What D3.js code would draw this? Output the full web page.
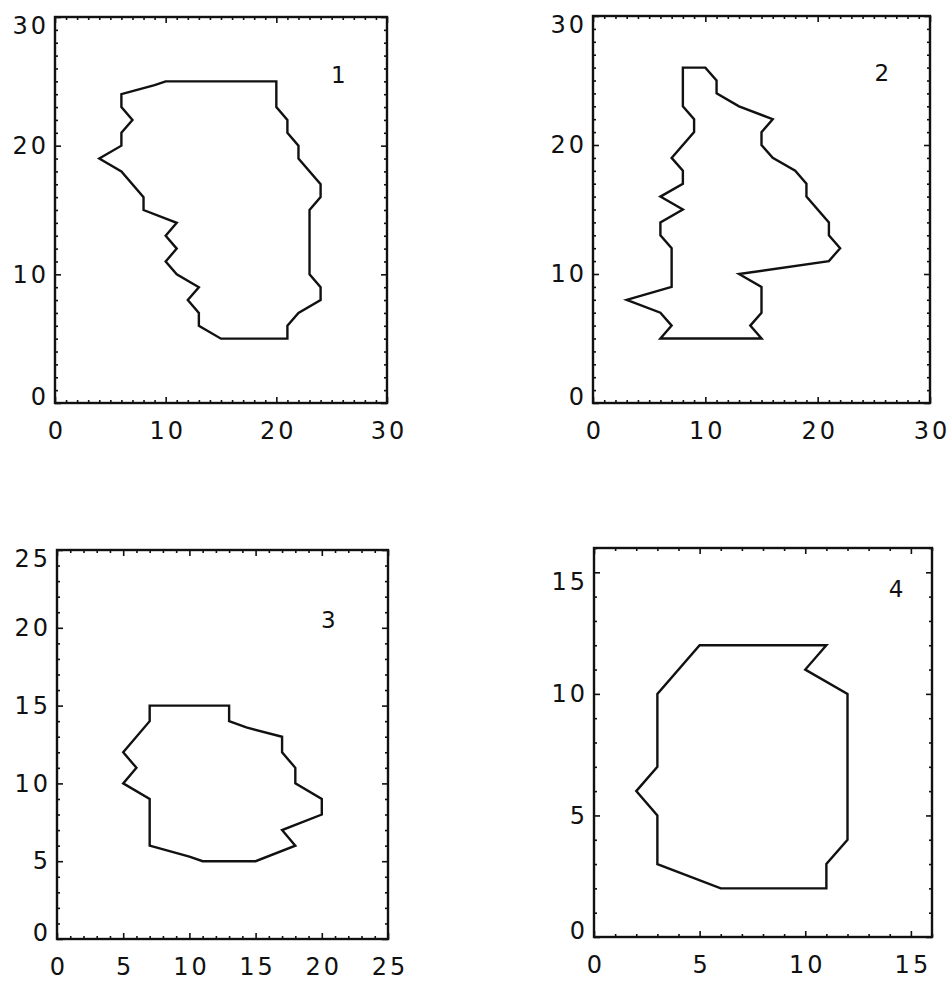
<!DOCTYPE html>
<html>
<head>
<meta charset="utf-8">
<script src="https://cdn.jsdelivr.net/npm/d3@7"></script>
<style>
  html, body { margin: 0; padding: 0; background: #ffffff; }
  svg { display: block; }
</style>
</head>
<body>
<svg id="chart" width="951" height="984"></svg>
<script>
// Panel identifiers and axis extents
const panelNames = ["1", "2", "3", "4"];
const axisMax = [30, 30, 25, 16];
const majorStep = [10, 10, 5, 5];
const minorStep = [1, 1, 1, 1];

// Closed outlines, one per panel, as [x, y] vertices
const outline1 = [
  [10, 25], [20, 25], [20, 23], [21, 22], [21, 21], [22, 20], [22, 19], [24, 17],
  [24, 16], [23, 15], [23, 10], [24, 9], [24, 8], [22, 7], [21, 6], [21, 5],
  [15, 5], [13, 6], [13, 7], [12, 8], [13, 9], [11, 10], [10, 11], [11, 12],
  [10, 13], [11, 14], [8, 15], [8, 16], [6, 18], [4, 19], [6, 20], [6, 21],
  [7, 22], [6, 23], [6, 24], [9, 24.7]
];
const outline2 = [
  [8, 26], [10, 26], [11, 25], [11, 24], [13, 23], [16, 22], [15, 21], [15, 20],
  [16, 19], [18, 18], [19, 17], [19, 16], [21, 14], [21, 13], [22, 12], [21, 11],
  [13, 10], [15, 9], [15, 7], [14, 6], [15, 5], [6, 5], [7, 6], [6, 7],
  [3, 8], [7, 9], [7, 12], [6, 13], [6, 14], [8, 15], [6, 16], [8, 17],
  [8, 18], [7, 19], [9, 21], [9, 22], [8, 23]
];
const outline3 = [
  [7, 15], [13, 15], [13, 14], [14.3, 13.6], [17, 13], [17, 12], [18, 11], [18, 10],
  [20, 9], [20, 8], [17, 7], [18, 6], [15, 5], [11, 5], [10, 5.3], [7, 6],
  [7, 9], [5, 10], [6, 11], [5, 12], [7, 14]
];
const outline4 = [
  [5, 12], [11, 12], [10, 11], [12, 10], [12, 4], [11, 3], [11, 2], [6, 2],
  [3, 3], [3, 5], [2, 6], [3, 7], [3, 10]
];
const outlines = [outline1, outline2, outline3, outline4];

// Panel number positions, in each panel's data units
const labelAt = [[25.6, 25.5], [25.7, 25.6], [20.5, 20.5], [14.3, 14.3]];

// Plot frames: left, top, width, height
const frames = [
  { left: 55, top: 17, width: 332, height: 386 },
  { left: 593, top: 16, width: 337, height: 387 },
  { left: 57, top: 550, width: 331, height: 389 },
  { left: 594, top: 548, width: 338, height: 389 }
];

const svg = d3.select("#chart");
const ink = "#111111";
const fontFamily = "'DejaVu Sans', sans-serif";
const fontSize = "24px";

panelNames.forEach((name, i) => {
  const f = frames[i];
  const max = axisMax[i];
  const g = svg.append("g").attr("transform", `translate(${f.left},${f.top})`);

  const x = d3.scaleLinear().domain([0, max]).range([0, f.width]);
  const y = d3.scaleLinear().domain([0, max]).range([f.height, 0]);

  const majors = d3.range(0, max + 1e-9, majorStep[i]);
  const minors = d3.range(0, max + 1e-9, minorStep[i]).filter(v => v % majorStep[i] !== 0);

  const styleAxis = sel => {
    sel.select(".domain").remove();
    sel.selectAll(".tick line").attr("stroke", ink).attr("stroke-width", 1.6);
    sel.selectAll(".tick text")
      .style("font-family", fontFamily)
      .style("font-size", fontSize)
      .style("letter-spacing", "3px")
      .attr("fill", ink);
  };

  // Minor ticks on all four sides, pointing inward
  g.append("g").attr("transform", `translate(0,${f.height})`)
    .call(d3.axisBottom(x).tickValues(minors).tickSize(-3).tickFormat(""))
    .call(styleAxis);
  g.append("g")
    .call(d3.axisTop(x).tickValues(minors).tickSize(-3).tickFormat(""))
    .call(styleAxis);
  g.append("g")
    .call(d3.axisLeft(y).tickValues(minors).tickSize(-3).tickFormat(""))
    .call(styleAxis);
  g.append("g").attr("transform", `translate(${f.width},0)`)
    .call(d3.axisRight(y).tickValues(minors).tickSize(-3).tickFormat(""))
    .call(styleAxis);

  // Major ticks, labelled on the bottom and left
  const bottom = g.append("g").attr("transform", `translate(0,${f.height})`)
    .call(d3.axisBottom(x).tickValues(majors).tickSize(-6).tickPadding(19).tickFormat(d3.format("d")))
    .call(styleAxis);
  const left = g.append("g")
    .call(d3.axisLeft(y).tickValues(majors).tickSize(-6).tickPadding(6).tickFormat(d3.format("d")))
    .call(styleAxis);
  g.append("g")
    .call(d3.axisTop(x).tickValues(majors).tickSize(-6).tickFormat(""))
    .call(styleAxis);
  g.append("g").attr("transform", `translate(${f.width},0)`)
    .call(d3.axisRight(y).tickValues(majors).tickSize(-6).tickFormat(""))
    .call(styleAxis);

  // Centre the spaced digits under their ticks
  bottom.selectAll(".tick text").attr("dx", "1.5px");

  // End labels on the vertical axis sit a little inside the frame
  left.selectAll(".tick text")
    .attr("transform", d => d === 0 ? "translate(0,-6)" : (d === majors[majors.length - 1] ? "translate(0,9)" : null));

  // Frame
  g.append("rect")
    .attr("x", 0).attr("y", 0)
    .attr("width", f.width).attr("height", f.height)
    .attr("fill", "none").attr("stroke", ink).attr("stroke-width", 2.4);

  // Outline
  const line = d3.line().x(d => x(d[0])).y(d => y(d[1])).curve(d3.curveLinearClosed);
  g.append("path")
    .datum(outlines[i])
    .attr("d", line)
    .attr("fill", "none")
    .attr("stroke", ink)
    .attr("stroke-width", 2.4)
    .attr("stroke-linejoin", "miter");

  // Panel number
  g.append("text")
    .attr("x", x(labelAt[i][0]))
    .attr("y", y(labelAt[i][1]))
    .attr("text-anchor", "middle")
    .attr("dy", "0.35em")
    .style("font-family", fontFamily)
    .style("font-size", "23px")
    .attr("fill", ink)
    .text(name);
});
</script>
</body>
</html>
